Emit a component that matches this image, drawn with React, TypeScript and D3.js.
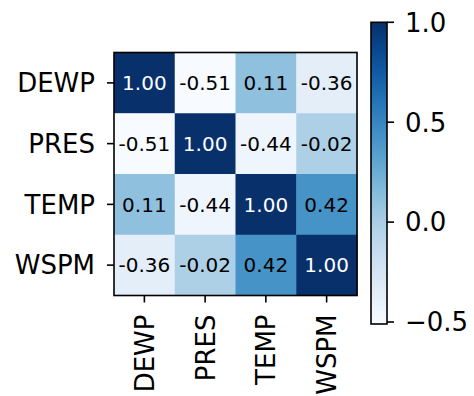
import React, { useEffect, useRef } from "react";
import * as d3 from "d3";

const labels: string[] = ["DEWP", "PRES", "TEMP", "WSPM"];
const rowDEWP: number[] = [1.0, -0.51, 0.11, -0.36];
const rowPRES: number[] = [-0.51, 1.0, -0.44, -0.02];
const rowTEMP: number[] = [0.11, -0.44, 1.0, 0.42];
const rowWSPM: number[] = [-0.36, -0.02, 0.42, 1.0];
const colorbarTicks: number[] = [-0.5, 0.0, 0.5, 1.0];

function createChart(el: SVGSVGElement) {
  const rows = [rowDEWP, rowPRES, rowTEMP, rowWSPM];
  const cells: { r: string; c: string; v: number }[] = [];
  rows.forEach((row, i) =>
    row.forEach((v, j) => cells.push({ r: labels[i], c: labels[j], v }))
  );

  const svg = d3.select(el);
  svg.selectAll("*").remove();

  const font = "'DejaVu Sans', sans-serif";
  const tickFont = 26;
  const left = 114,
    top = 52.5,
    size = 243;

  const vmin = d3.min(cells, (d) => d.v) as number;
  const vmax = d3.max(cells, (d) => d.v) as number;
  const color = d3.scaleSequential(d3.interpolateBlues).domain([vmin, vmax]);

  const x = d3.scaleBand().domain(labels).range([left, left + size]);
  const y = d3.scaleBand().domain(labels).range([top, top + size]);

  // cells
  svg
    .append("g")
    .selectAll("rect")
    .data(cells)
    .enter()
    .append("rect")
    .attr("x", (d) => x(d.c) as number)
    .attr("y", (d) => y(d.r) as number)
    .attr("width", x.bandwidth() + 0.5)
    .attr("height", y.bandwidth() + 0.5)
    .attr("fill", (d) => color(d.v));

  // annotations
  svg
    .append("g")
    .selectAll("text")
    .data(cells)
    .enter()
    .append("text")
    .attr("x", (d) => (x(d.c) as number) + x.bandwidth() / 2)
    .attr("y", (d) => (y(d.r) as number) + y.bandwidth() / 2)
    .attr("dy", "0.36em")
    .attr("text-anchor", "middle")
    .attr("font-family", font)
    .attr("font-size", 20)
    .attr("fill", (d) => ((d.v - vmin) / (vmax - vmin) > 0.7 ? "#fff" : "#000"))
    .text((d) => d.v.toFixed(2));

  // frame
  svg
    .append("rect")
    .attr("x", left)
    .attr("y", top)
    .attr("width", size)
    .attr("height", size)
    .attr("fill", "none")
    .attr("stroke", "#000")
    .attr("stroke-width", 1.6);

  // y ticks
  const yt = svg.append("g");
  labels.forEach((l) => {
    const cy = (y(l) as number) + y.bandwidth() / 2;
    yt.append("line")
      .attr("x1", left - 7)
      .attr("x2", left)
      .attr("y1", cy)
      .attr("y2", cy)
      .attr("stroke", "#000")
      .attr("stroke-width", 1.6);
    yt.append("text")
      .attr("x", left - 19)
      .attr("y", cy)
      .attr("dy", "0.36em")
      .attr("text-anchor", "end")
      .attr("font-family", font)
      .attr("font-size", tickFont)
      .text(l);
  });

  // x ticks
  const xt = svg.append("g");
  labels.forEach((l) => {
    const cx = (x(l) as number) + x.bandwidth() / 2;
    xt.append("line")
      .attr("x1", cx)
      .attr("x2", cx)
      .attr("y1", top + size)
      .attr("y2", top + size + 7)
      .attr("stroke", "#000")
      .attr("stroke-width", 1.6);
    xt.append("text")
      .attr("transform", `translate(${cx},${top + size + 19}) rotate(-90)`)
      .attr("dy", "0.36em")
      .attr("text-anchor", "end")
      .attr("font-family", font)
      .attr("font-size", tickFont)
      .text(l);
  });

  // colorbar
  const cbX = 371,
    cbW = 16,
    cbTop = 22.3,
    cbBottom = 324;
  const cy = d3.scaleLinear().domain([vmin, vmax]).range([cbBottom, cbTop]);

  const grad = svg
    .append("defs")
    .append("linearGradient")
    .attr("id", "cbgrad")
    .attr("x1", 0)
    .attr("y1", 1)
    .attr("x2", 0)
    .attr("y2", 0);
  d3.range(0, 1.0001, 0.05).forEach((t) => {
    grad
      .append("stop")
      .attr("offset", t)
      .attr("stop-color", d3.interpolateBlues(t));
  });

  svg
    .append("rect")
    .attr("x", cbX)
    .attr("y", cbTop)
    .attr("width", cbW)
    .attr("height", cbBottom - cbTop)
    .attr("fill", "url(#cbgrad)")
    .attr("stroke", "#000")
    .attr("stroke-width", 1.6);

  const cbAxis = svg.append("g");
  colorbarTicks.forEach((t) => {
    cbAxis
      .append("line")
      .attr("x1", cbX + cbW)
      .attr("x2", cbX + cbW + 7)
      .attr("y1", cy(t))
      .attr("y2", cy(t))
      .attr("stroke", "#000")
      .attr("stroke-width", 1.6);
    cbAxis
      .append("text")
      .attr("x", cbX + cbW + 18)
      .attr("y", cy(t))
      .attr("dy", "0.36em")
      .attr("font-family", font)
      .attr("font-size", tickFont)
      .text(d3.format(".1f")(t).replace("-", "\u2212"));
  });
}

export default function App() {
  const ref = useRef<SVGSVGElement>(null);
  useEffect(() => {
    if (ref.current) createChart(ref.current);
  }, []);

  return (
    <svg
      ref={ref}
      width={474}
      height={396}
      style={{ position: "absolute", left: 0, top: 0, background: "#fff" }}
    />
  );
}
